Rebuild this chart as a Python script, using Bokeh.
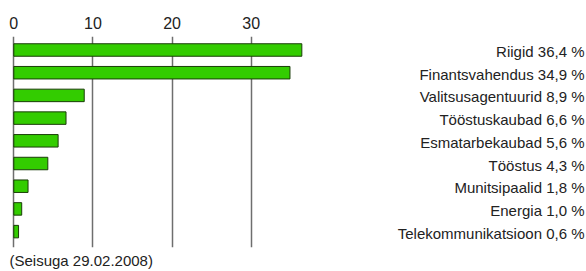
from bokeh.plotting import figure
from bokeh.models import ColumnDataSource, FixedTicker, Title, Range1d
from bokeh.core.properties import value
from bokeh.embed import file_html
from bokeh.resources import INLINE

categories = ["Riigid", "Finantsvahendus", "Valitsusagentuurid", "Tööstuskaubad",
              "Esmatarbekaubad", "Tööstus", "Munitsipaalid", "Energia", "Telekommunikatsioon"]
shares = [36.4, 34.9, 8.9, 6.6, 5.6, 4.3, 1.8, 1.0, 0.6]
x_ticks = [0, 10, 20, 30]
footnote = "(Seisuga 29.02.2008)"

FONT = "Liberation Sans"
W, H = 586, 271
px_per_unit = 7.913
x0 = -13.3 / px_per_unit
x1 = x0 + W / px_per_unit

pos = list(range(1, len(categories) + 1))
labels = [f"{c} {v:.1f} %".replace(".", ",") for c, v in zip(categories, shares)]
src = ColumnDataSource(dict(y=pos, v=shares, label=labels))

p = figure(width=W, height=H, output_backend="svg", toolbar_location=None,
           x_range=Range1d(x0, x1), y_range=Range1d(9.70, 0.405),
           x_axis_location="above", min_border_left=0, min_border_right=0,
           min_border_top=36, min_border_bottom=24)
p.outline_line_color = None
p.background_fill_color = "white"
p.yaxis.visible = False
p.ygrid.visible = False

ax = p.xaxis[0]
ax.ticker = FixedTicker(ticks=x_ticks)
ax.axis_line_color = None
ax.major_tick_line_color = None
ax.minor_tick_line_color = None
ax.major_tick_out = 0
ax.major_tick_in = 0
ax.major_label_standoff = 8
ax.major_label_text_font = FONT
ax.major_label_text_font_size = "16px"
ax.major_label_text_color = "#222222"

p.xgrid.ticker = FixedTicker(ticks=x_ticks)
p.xgrid.grid_line_color = "#6e6e6e"
p.xgrid.grid_line_width = 1.5
p.xgrid.grid_line_alpha = 1.0

p.hbar(y="y", left=0, right="v", height=0.55, source=src,
       fill_color="#33cc00", line_color="#1a3d08", line_width=1)

p.text(x=x0 + 584 / px_per_unit, y="y", y_offset=1.5, text="label", source=src,
       text_align="right", text_baseline="middle",
       text_font=value(FONT), text_font_size="15px", text_color="#222222")

t = Title(text=footnote, align="left", text_font=FONT, text_font_size="15px",
          text_font_style="normal", text_color="#222222", offset=9, standoff=4)
p.add_layout(t, "below")

open("out.html", "w").write(file_html(p, INLINE))
